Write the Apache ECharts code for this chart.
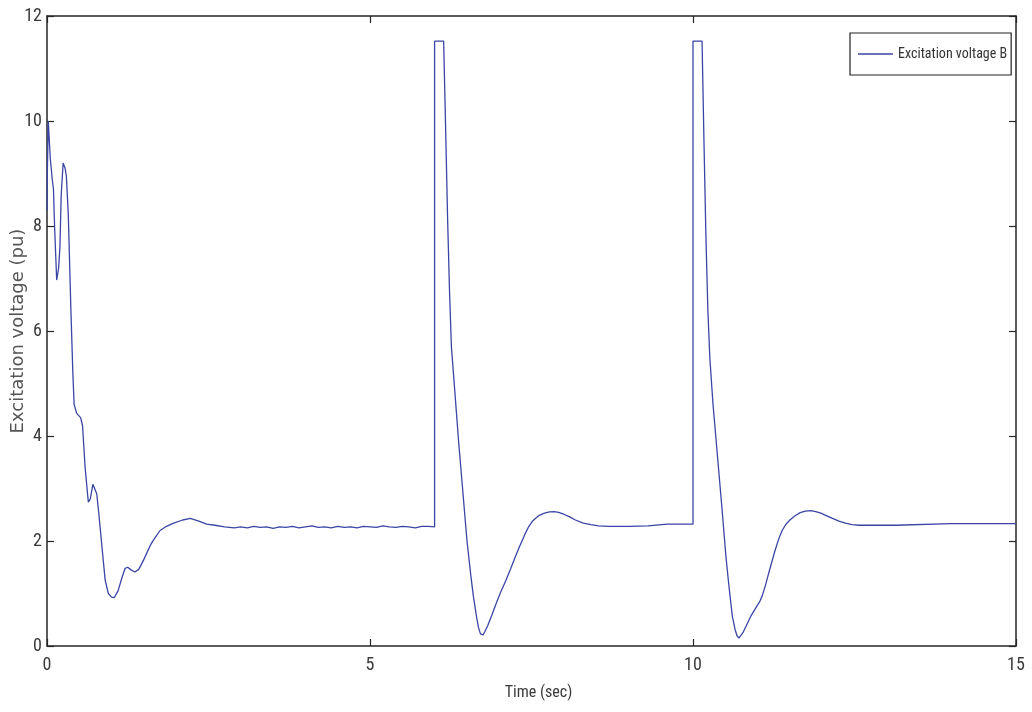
<!DOCTYPE html>
<html>
<head>
<meta charset="utf-8">
<title>Excitation voltage B</title>
<script src="https://cdn.jsdelivr.net/npm/echarts@6/dist/echarts.min.js"></script>
<style>
  html, body { margin: 0; padding: 0; background: #ffffff; }
  #chart { width: 1032px; height: 712px; }
</style>
</head>
<body>
<div id="chart"></div>
<script>
// Excitation voltage of generator B (pu) against simulation time (s)
const timeSec = [
  0, 0.005, 0.02, 0.05, 0.08, 0.10, 0.12, 0.15, 0.18, 0.20, 0.22, 0.25, 0.28, 0.30, 0.33, 0.37,
  0.40, 0.42, 0.46, 0.52, 0.55, 0.59, 0.62, 0.64, 0.67, 0.71, 0.74, 0.77, 0.80, 0.85, 0.90, 0.95,
  1.00, 1.04, 1.10, 1.16, 1.21, 1.25, 1.30, 1.36, 1.42, 1.50, 1.60, 1.65, 1.75, 1.85, 1.96, 2.10,
  2.22, 2.35, 2.47, 2.60, 2.75, 2.90,
  3.0, 3.1, 3.2, 3.3, 3.4, 3.5, 3.6, 3.7, 3.8, 3.9, 4.0, 4.1, 4.2, 4.3, 4.4, 4.5, 4.6, 4.7, 4.8,
  4.9, 5.0, 5.1, 5.2, 5.3, 5.4, 5.5, 5.6, 5.7, 5.8, 5.9, 6.0,
  6.0, 6.14, 6.17, 6.20, 6.23, 6.26, 6.31, 6.37, 6.44, 6.50, 6.56, 6.60, 6.65, 6.68, 6.71, 6.73,
  6.75, 6.78, 6.82, 6.89, 6.95, 7.02, 7.10, 7.18, 7.25, 7.31, 7.36, 7.41, 7.46, 7.51, 7.56, 7.62,
  7.70, 7.78, 7.85, 7.92, 8.00, 8.09, 8.18, 8.30, 8.42, 8.54, 8.70, 9.00, 9.30, 9.32, 9.60, 10.0,
  10.0, 10.14, 10.17, 10.20, 10.23, 10.26, 10.31, 10.38, 10.45, 10.51, 10.56, 10.61, 10.65, 10.68,
  10.71, 10.74, 10.78, 10.83, 10.90, 10.97, 11.03, 11.07, 11.12, 11.17, 11.22, 11.27, 11.33, 11.38,
  11.44, 11.50, 11.58, 11.66, 11.74, 11.82, 11.90, 11.98, 12.07, 12.16, 12.26, 12.36, 12.46, 12.57,
  12.90, 13.13, 13.15, 14.0, 15.0
];
const voltageB = [
  8.30, 9.00, 10.00, 9.30, 8.90, 8.70, 7.90, 6.97, 7.20, 7.60, 8.60, 9.20, 9.10, 8.95, 8.20, 6.40,
  5.20, 4.60, 4.43, 4.35, 4.20, 3.40, 3.00, 2.74, 2.80, 3.08, 3.10, 2.90, 2.55, 1.90, 1.26, 1.00,
  0.93, 0.92, 1.05, 1.30, 1.48, 1.50, 1.45, 1.41, 1.46, 1.65, 1.92, 2.02, 2.20, 2.28, 2.34, 2.40,
  2.43, 2.38, 2.32, 2.30, 2.27, 2.25,
  2.27, 2.25, 2.28, 2.26, 2.27, 2.24, 2.27, 2.26, 2.28, 2.25, 2.27, 2.29, 2.26, 2.27, 2.25, 2.28,
  2.26, 2.27, 2.25, 2.28, 2.27, 2.26, 2.29, 2.27, 2.26, 2.28, 2.27, 2.25, 2.28, 2.28, 2.27,
  11.52, 11.52, 9.90, 8.20, 6.80, 5.70, 4.90, 3.92, 2.90, 2.02, 1.35, 0.95, 0.55, 0.35, 0.23, 0.20,
  0.21, 0.28, 0.38, 0.60, 0.80, 1.02, 1.24, 1.48, 1.70, 1.88, 2.02, 2.16, 2.28, 2.37, 2.43, 2.49,
  2.53, 2.555, 2.56, 2.545, 2.51, 2.46, 2.40, 2.34, 2.31, 2.29, 2.28, 2.28, 2.29, 2.32, 2.32, 2.32,
  11.52, 11.52, 9.60, 7.80, 6.40, 5.50, 4.60, 3.60, 2.60, 1.70, 1.10, 0.56, 0.32, 0.20,
  0.15, 0.18, 0.27, 0.40, 0.58, 0.72, 0.84, 0.95, 1.15, 1.38, 1.60, 1.82, 2.05, 2.20,
  2.32, 2.40, 2.48, 2.54, 2.57, 2.58, 2.56, 2.53, 2.48, 2.43, 2.38, 2.34, 2.31, 2.30,
  2.30, 2.30, 2.33, 2.33, 2.33
];
const xTicks = [0, 5, 10, 15];
const yTicks = [0, 2, 4, 6, 8, 10, 12];
const seriesName = 'Excitation voltage B';

const narrow = "'Liberation Sans Narrow', 'Arial Narrow', 'Roboto Condensed', sans-serif";
const axisColor = '#262626';
const labelColor = '#3a3a3a';
const lineColor = '#3b45a6';

const points = timeSec.map((t, i) => [t, voltageB[i]]);

const boxAxis = {
  axisLine: { show: true, onZero: false, lineStyle: { color: axisColor, width: 1.5 } },
  axisTick: { show: true, inside: true, length: 7, lineStyle: { color: axisColor, width: 1.2 } },
  splitLine: { show: false }
};

const chart = echarts.init(document.getElementById('chart'), null, { renderer: 'canvas' });
chart.setOption({
  animation: false,
  backgroundColor: '#ffffff',
  grid: { left: 47, top: 16, width: 969, height: 630, containLabel: false, outerBoundsMode: 'none' },
  legend: {
    show: true,
    data: [{ name: seriesName, icon: 'rect', itemStyle: { color: lineColor } }],
    left: 850, top: 33,
    orient: 'vertical',
    itemWidth: 35, itemHeight: 1.5,
    itemGap: 0,
    padding: [14, 4, 14, 8],
    borderColor: '#222222', borderWidth: 1.2,
    backgroundColor: '#ffffff',
    textStyle: { fontFamily: narrow, fontSize: 14, color: '#333333' }
  },
  xAxis: [
    Object.assign({
      type: 'value', position: 'bottom', min: 0, max: 15, interval: 5,
      name: 'Time (sec)', nameLocation: 'middle', nameGap: 39, nameMoveOverlap: false,
      nameTextStyle: { fontFamily: narrow, fontSize: 16, color: labelColor, padding: [0, 0, 0, 14] },
      axisLabel: {
        margin: 10, fontFamily: narrow, fontSize: 18, color: labelColor,
        customValues: xTicks
      }
    }, boxAxis),
    Object.assign({
      type: 'value', position: 'top', min: 0, max: 15, interval: 5,
      axisLabel: { show: false }
    }, boxAxis)
  ],
  yAxis: [
    Object.assign({
      type: 'value', position: 'left', min: 0, max: 12, interval: 2,
      name: 'Excitation voltage (pu)', nameLocation: 'middle', nameGap: 20, nameRotate: 90,
      nameMoveOverlap: false,
      nameTextStyle: { fontFamily: "'DejaVu Sans', sans-serif", fontSize: 18, color: '#555555' },
      axisLabel: {
        margin: 5, fontFamily: narrow, fontSize: 18, color: labelColor,
        customValues: yTicks
      }
    }, boxAxis),
    Object.assign({
      type: 'value', position: 'right', min: 0, max: 12, interval: 2,
      axisLabel: { show: false }
    }, boxAxis)
  ],
  series: [{
    name: seriesName,
    type: 'line',
    xAxisIndex: 0,
    yAxisIndex: 0,
    data: points,
    showSymbol: false,
    symbol: 'none',
    smooth: false,
    color: lineColor,
    lineStyle: { color: lineColor, width: 1.3 }
  }]
});
</script>
</body>
</html>
